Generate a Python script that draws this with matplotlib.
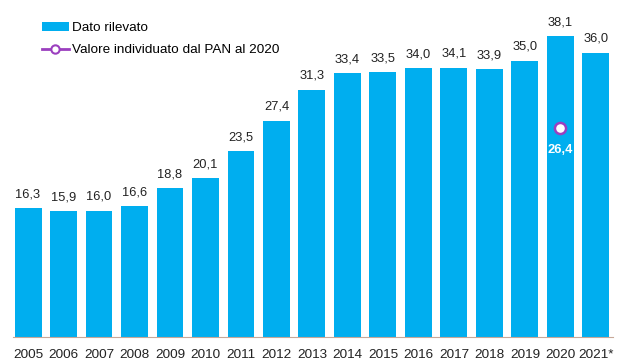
import matplotlib
matplotlib.use("Agg")
import matplotlib.pyplot as plt
from matplotlib.lines import Line2D
from matplotlib.patches import Patch

years = ["2005", "2006", "2007", "2008", "2009", "2010", "2011", "2012", "2013",
         "2014", "2015", "2016", "2017", "2018", "2019", "2020", "2021*"]
values = [16.3, 15.9, 16.0, 16.6, 18.8, 20.1, 23.5, 27.4, 31.3,
          33.4, 33.5, 34.0, 34.1, 33.9, 35.0, 38.1, 36.0]
target_year = "2020"
target_value = 26.4

plt.rcParams['font.family'] = ['Liberation Sans', 'DejaVu Sans']

fig = plt.figure(figsize=(6.17, 3.63), dpi=100)
ax = fig.add_axes([13/617, 26/363, 600/617, 337/363])
blue = "#00AEEF"
x = list(range(len(years)))
ax.bar(x, values, width=0.76, color=blue, zorder=2)
for xi, v in zip(x, values):
    ax.text(xi, v + 1.75, f"{v:.1f}".replace(".", ","), ha="center", va="center",
            fontsize=9.3, color="#222222")

ti = years.index(target_year)
ax.plot([ti], [target_value], marker="o", markersize=8, markerfacecolor="white",
        markeredgecolor="#9B3FBF", markeredgewidth=1.8, linestyle="none", zorder=3)
ax.text(ti, target_value - 2.7, f"{target_value:.1f}".replace(".", ","), ha="center",
        va="center", fontsize=9.3, color="white", fontweight="bold", zorder=4)

ax.set_xlim(-0.423, 16.48)
ax.set_ylim(0, 42.66)
ax.set_xticks(x)
ax.set_xticklabels(years, fontsize=9.7, color="#222222")
ax.tick_params(axis="x", length=0, pad=9)
ax.set_yticks([])
for s in ["top", "right", "left"]:
    ax.spines[s].set_visible(False)
ax.spines["bottom"].set_color("#C8A898")
ax.spines["bottom"].set_linewidth(0.8)

handles = [Patch(facecolor=blue, edgecolor="none"),
           Line2D([0], [0], color="#9B3FBF", lw=2, marker="o", markersize=6,
                  markerfacecolor="white", markeredgecolor="#9B3FBF", markeredgewidth=1.5)]
fig.legend(handles, ["Dato rilevato", "Valore individuato dal PAN al 2020"],
           loc="upper left", bbox_to_anchor=(42/617, 341/363),
           bbox_transform=fig.transFigure, frameon=False,
           fontsize=9.7, handlelength=2.0, handleheight=0.6, handletextpad=0.2,
           labelspacing=0.74, borderpad=0, borderaxespad=0)

fig.savefig("out.png", dpi=100)
